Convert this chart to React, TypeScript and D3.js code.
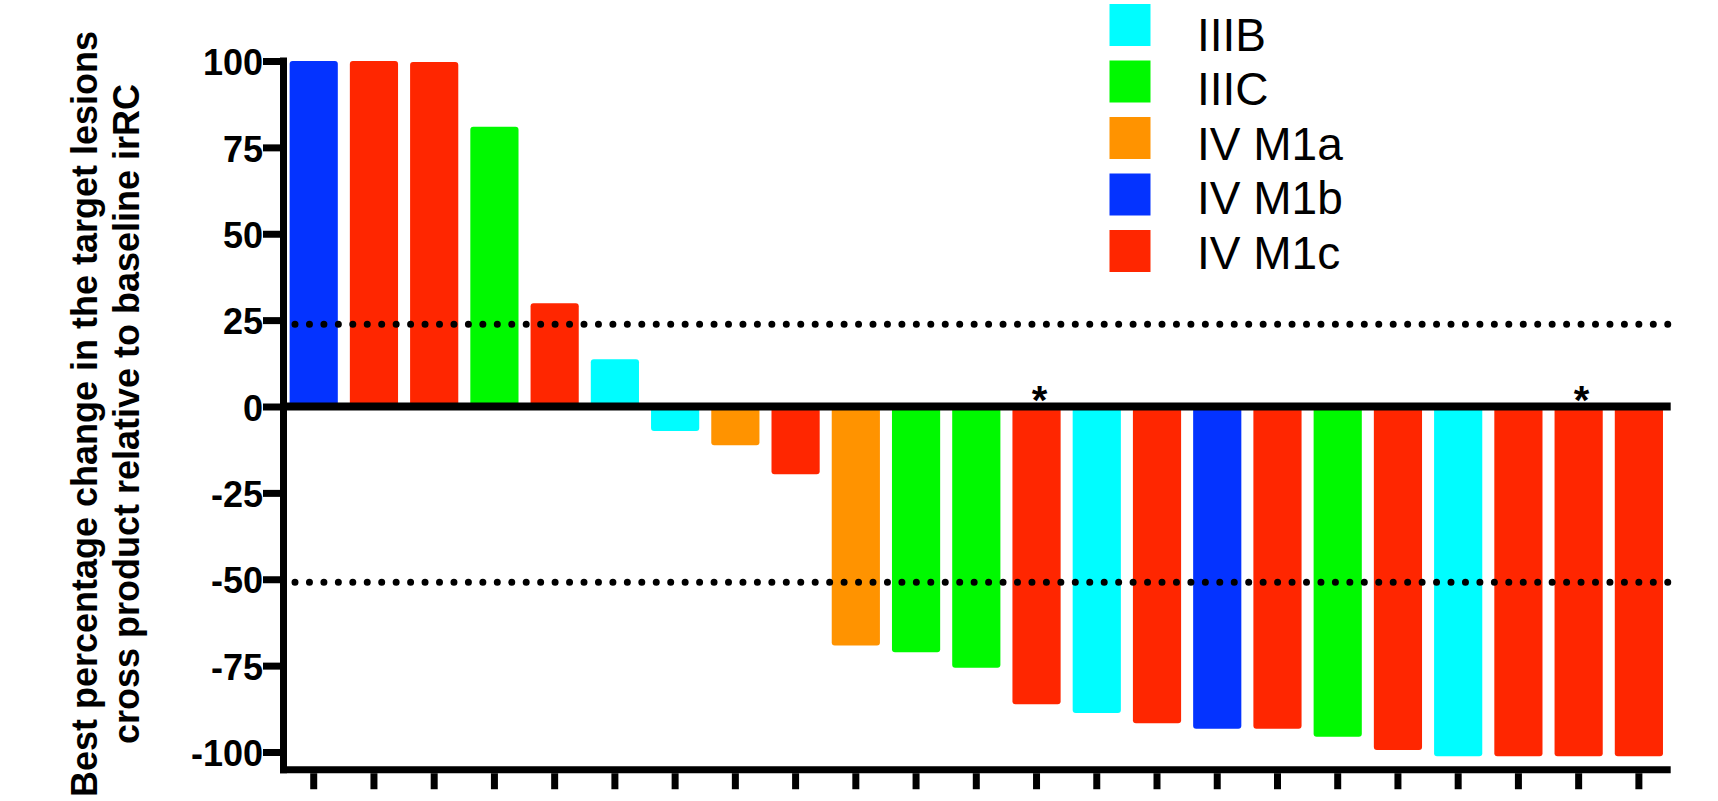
import React, { useEffect, useRef } from 'react';
import * as d3 from 'd3';

// patients, ordered as in the waterfall
const patients = ['1', '2', '3', '4', '5', '6', '7', '8', '9', '10', '11', '12', '13', '14', '15', '16', '17', '18', '19', '20', '21', '22', '23'];
const bestChange = [100, 100, 99.7, 81.0, 29.9, 13.7, -7.1, -11.2, -19.6, -69.2, -71.1, -75.6, -86.2, -88.7, -91.7, -93.3, -93.3, -95.6, -99.4, -101.2, -101.2, -101.2, -101.2];
const patientStage = ['IV M1b', 'IV M1c', 'IV M1c', 'IIIC', 'IV M1c', 'IIIB', 'IIIB', 'IV M1a', 'IV M1c', 'IV M1a', 'IIIC', 'IIIC', 'IV M1c', 'IIIB', 'IV M1c', 'IV M1b', 'IV M1c', 'IIIC', 'IV M1c', 'IIIB', 'IV M1c', 'IV M1c', 'IV M1c'];
const starred = ['13', '22'];

const stages = ['IIIB', 'IIIC', 'IV M1a', 'IV M1b', 'IV M1c'];
const palette = ['#00FDFF', '#00F900', '#FF9300', '#0433FF', '#FF2600'];

const yTicks = [-100, -75, -50, -25, 0, 25, 50, 75, 100];
const thresholds = [23.8, -50.9];
const yTitle = ['Best percentage change in the target lesions', 'cross product relative to baseline irRC'];

const FONT = '"Liberation Sans", Arial, Helvetica, sans-serif';

export default function App() {
    const svgRef = useRef<SVGSVGElement>(null);

    useEffect(() => {
        const svg = d3.select(svgRef.current);
        svg.selectAll('*').remove();

        const axisX = 280; // left edge of the y axis line
        const right = 1670.7;
        const bottomY = 769.75;

        const x = d3.scaleBand<string>()
            .domain(patients)
            .range([283.6, 1669])
            .paddingInner(0.2)
            .paddingOuter(0.1);

        const y = d3.scaleLinear().domain([-100, 100]).range([752, 61]);
        const color = d3.scaleOrdinal<string, string>(stages, palette);

        const rows = patients.map((p, i) => ({ p, v: bestChange[i], stage: patientStage[i] }));

        // Bars
        svg.append('g')
            .selectAll('rect')
            .data(rows)
            .enter()
            .append('rect')
            .attr('x', (d) => x(d.p)!)
            .attr('width', x.bandwidth())
            .attr('y', (d) => Math.min(y(d.v), y(0)))
            .attr('height', (d) => Math.abs(y(d.v) - y(0)))
            .attr('rx', 3)
            .attr('fill', (d) => color(d.stage));

        // Zero line
        svg.append('line')
            .attr('x1', axisX).attr('x2', right)
            .attr('y1', y(0)).attr('y2', y(0))
            .attr('stroke', '#000').attr('stroke-width', 8);

        // Threshold dotted lines
        svg.append('g')
            .selectAll('line')
            .data(thresholds)
            .enter()
            .append('line')
            .attr('x1', 295).attr('x2', 1674)
            .attr('y1', (d) => y(d)).attr('y2', (d) => y(d))
            .attr('stroke', '#000')
            .attr('stroke-width', 7)
            .attr('stroke-linecap', 'round')
            .attr('stroke-dasharray', '0 14.45');

        // Asterisks
        svg.append('g')
            .selectAll('text')
            .data(starred)
            .enter()
            .append('text')
            .attr('x', (d) => x(d)! + x.bandwidth() / 2 + 3)
            .attr('y', y(0) + 7.5)
            .attr('text-anchor', 'middle')
            .style('font-family', FONT)
            .style('font-weight', 'bold')
            .style('font-size', '40px')
            .text('*');

        // Y axis
        const yAxis = svg.append('g')
            .attr('transform', `translate(${axisX},0)`)
            .call(d3.axisLeft(y).tickValues(yTicks).tickSize(17).tickPadding(0).tickFormat((d) => String(d)));
        yAxis.select('.domain').remove();
        yAxis.selectAll('.tick line').attr('stroke', '#000').attr('stroke-width', 7);
        yAxis.selectAll('.tick text')
            .attr('dy', '0.38em')
            .attr('fill', '#000')
            .style('font-family', FONT)
            .style('font-weight', 'bold')
            .style('font-size', '36px');

        svg.append('line')
            .attr('x1', axisX + 3.5).attr('x2', axisX + 3.5)
            .attr('y1', 57.5).attr('y2', bottomY + 3.5)
            .attr('stroke', '#000').attr('stroke-width', 7);

        // X axis (offset below the plot)
        const xAxis = svg.append('g')
            .attr('transform', `translate(0,${bottomY + 3.5})`)
            .call(d3.axisBottom(x).tickSize(16).tickFormat(() => ''));
        xAxis.select('.domain').remove();
        xAxis.selectAll('.tick line').attr('stroke', '#000').attr('stroke-width', 7);

        svg.append('line')
            .attr('x1', axisX).attr('x2', right)
            .attr('y1', bottomY).attr('y2', bottomY)
            .attr('stroke', '#000').attr('stroke-width', 7);

        // Y axis title
        yTitle.forEach((t, i) => {
            svg.append('text')
                .attr('transform', `translate(${97 + i * 41.5},414) rotate(-90)`)
                .attr('text-anchor', 'middle')
                .style('font-family', FONT)
                .style('font-weight', 'bold')
                .style('font-size', '36px')
                .text(t);
        });

        // Legend
        const legend = svg.append('g');
        stages.forEach((s, i) => {
            legend.append('rect')
                .attr('x', 1109.5)
                .attr('y', 4 + i * 56.5)
                .attr('width', 41)
                .attr('height', 42)
                .attr('fill', color(s));
            legend.append('text')
                .attr('x', 1197)
                .attr('y', 50.7 + i * 54.5)
                .style('font-family', FONT)
                .style('font-size', '46px')
                .text(s);
        });
    }, []);

    return (
        <div style={{ position: 'absolute', left: 0, top: 0 }}>
            <svg ref={svgRef} width={1718} height={801} style={{ display: 'block', background: '#fff' }} />
        </div>
    );
}
